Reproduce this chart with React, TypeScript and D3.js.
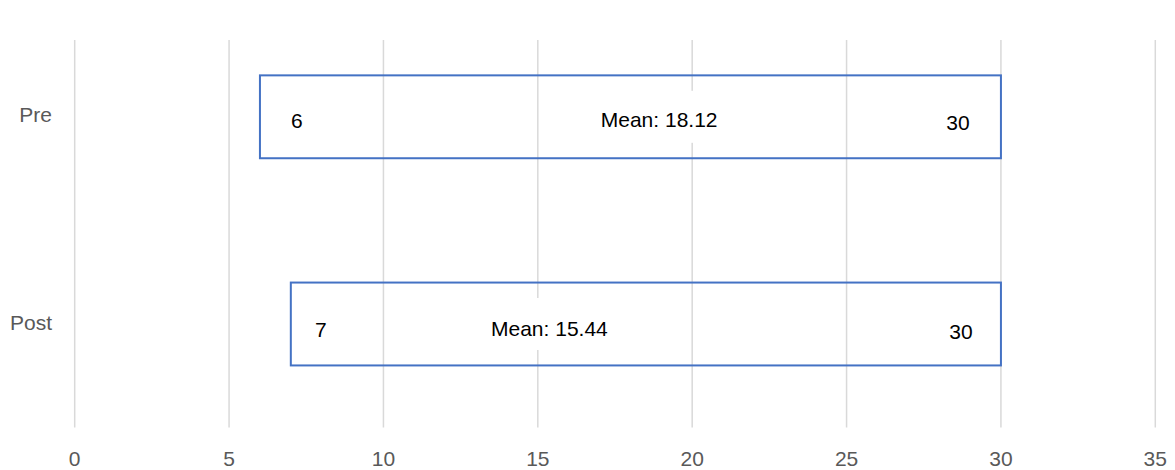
import React from "react";
import * as d3 from "d3";

// Score ranges per assessment: minimum, maximum and mean
const categories = ["Pre", "Post"];
const minScores = [6, 7];
const maxScores = [30, 30];
const meanScores = [18.12, 15.44];
const xTicks = [0, 5, 10, 15, 20, 25, 30, 35];

const WIDTH = 1175;
const HEIGHT = 470;
const FONT = "'Liberation Sans', Arial, sans-serif";

// Hand-placed label nudges (px) per row
const minLabelShift = [37, 30];
const maxLabelShift = [-43, -40];
const meanLabelShift = [25, -2];
const rowLabelDy = [4, 5];
const GRID_TOP = 40;

export default function App() {
  const x = d3.scaleLinear().domain([0, 35]).range([74.7, 1155.3]);
  const y = d3
    .scaleBand<string>()
    .domain(categories)
    .range([13.2, 427.6])
    .paddingInner(0.6)
    .paddingOuter(0.3);

  const plotBottom = y.range()[1];

  return (
    <svg
      width={WIDTH}
      height={HEIGHT}
      style={{ position: "absolute", left: 0, top: 0, background: "#fff" }}
      fontFamily={FONT}
    >
      {/* vertical gridlines */}
      {xTicks.map((t) => (
        <line
          key={`g${t}`}
          x1={x(t)}
          x2={x(t)}
          y1={GRID_TOP}
          y2={plotBottom}
          stroke="#d9d9d9"
          strokeWidth={1.5}
        />
      ))}

      {/* x tick labels */}
      {xTicks.map((t) => (
        <text
          key={`t${t}`}
          x={x(t)}
          y={458}
          textAnchor="middle"
          dominantBaseline="central"
          fontSize={21}
          fill="#595959"
        >
          {t}
        </text>
      ))}

      {/* category labels */}
      {categories.map((c) => (
        <text
          key={`c${c}`}
          x={52}
          y={(y(c) ?? 0) + y.bandwidth() / 2 - 2}
          textAnchor="end"
          dominantBaseline="central"
          fontSize={21}
          fill="#595959"
        >
          {c}
        </text>
      ))}

      {/* range boxes */}
      {categories.map((c, i) => {
        const top = y(c) ?? 0;
        const mid = top + y.bandwidth() / 2;
        const meanX = x(meanScores[i]) + meanLabelShift[i];
        const meanText = `Mean: ${meanScores[i].toFixed(2)}`;
        return (
          <g key={`b${c}`}>
            <rect
              x={x(minScores[i])}
              y={top}
              width={x(maxScores[i]) - x(minScores[i])}
              height={y.bandwidth()}
              fill="none"
              stroke="#4472c4"
              strokeWidth={2}
            />
            <rect
              x={meanX - 70}
              y={mid - 26}
              width={140}
              height={52}
              fill="#fff"
            />
            <text
              x={meanX}
              y={mid + rowLabelDy[i] - 1}
              textAnchor="middle"
              dominantBaseline="central"
              fontSize={21}
              fill="#000"
            >
              {meanText}
            </text>
            <text
              x={x(minScores[i]) + minLabelShift[i]}
              y={mid + rowLabelDy[i]}
              textAnchor="middle"
              dominantBaseline="central"
              fontSize={21}
              fill="#000"
            >
              {minScores[i]}
            </text>
            <text
              x={x(maxScores[i]) + maxLabelShift[i]}
              y={mid + rowLabelDy[i] + 2}
              textAnchor="middle"
              dominantBaseline="central"
              fontSize={21}
              fill="#000"
            >
              {maxScores[i]}
            </text>
          </g>
        );
      })}
    </svg>
  );
}
